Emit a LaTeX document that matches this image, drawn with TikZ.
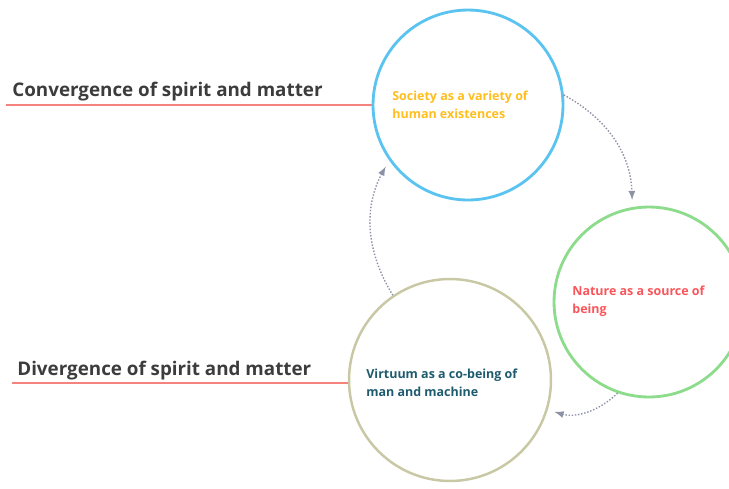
\documentclass[tikz,border=0pt]{standalone}
\usepackage{fontspec}
\setmainfont{Open Sans}
\definecolor{skyBlue}{RGB}{90,195,240}
\definecolor{leafGreen}{RGB}{140,220,140}
\definecolor{oliveGray}{RGB}{200,200,165}
\definecolor{sunYellow}{RGB}{255,190,30}
\definecolor{coralRed}{RGB}{250,85,90}
\definecolor{deepTeal}{RGB}{30,90,110}
\definecolor{darkText}{RGB}{60,60,60}
\definecolor{lineRed}{RGB}{245,130,125}
\definecolor{arrowGray}{RGB}{140,145,165}

\begin{document}
\begin{tikzpicture}[x=0.02cm,y=-0.02cm,
  ring/.style={circle,draw,line width=1.6pt},
  ringtext/.style={align=left,anchor=west,inner sep=0pt,font=\bfseries\fontsize{7.1}{10}\selectfont},
  heading/.style={font=\fontsize{10.7}{12}\selectfont\bfseries,text=darkText,inner sep=0pt},
  flow/.style={->,>=latex,densely dotted,thick,draw=arrowGray,bend left=30}]
\useasboundingbox (0,0) rectangle (729,488);

\node[ring,draw=skyBlue,minimum size=3.8cm] (society) at (468,105) {};
\node[ring,draw=leafGreen,minimum size=3.8cm] (nature) at (649,302) {};
\node[ring,draw=oliveGray,line width=1.4pt,minimum size=4.04cm] (virtuum) at (450,380) {};

\node[ringtext,text=sunYellow] (societyText) at (392,105) {Society as a variety of\\human existences};
\node[ringtext,text=coralRed] (natureText) at (572,301) {Nature as a source of\\being};
\node[ringtext,text=deepTeal] (virtuumText) at (366,383) {Virtuum as a co-being of\\man and machine};

\node[heading,anchor=base west] (conv) at (12,96) {Convergence of spirit and matter};
\node[heading,anchor=base west] (div) at (17,375) {Divergence of spirit and matter};
\coordinate (convL) at (6,105);
\coordinate (divL) at (12,383);

\draw[lineRed,line width=1pt] (convL) -- (society.west);
\draw[lineRed,line width=1pt] (divL) -- (virtuum.west |- divL);

\draw[flow,shorten >=4pt] (society.6) to (nature.100);
\draw[flow,shorten >=4pt] (nature.251) to (virtuum.-17);
\draw[flow,shorten >=4pt] (virtuum.124) to (society.215);
\end{tikzpicture}
\end{document}
